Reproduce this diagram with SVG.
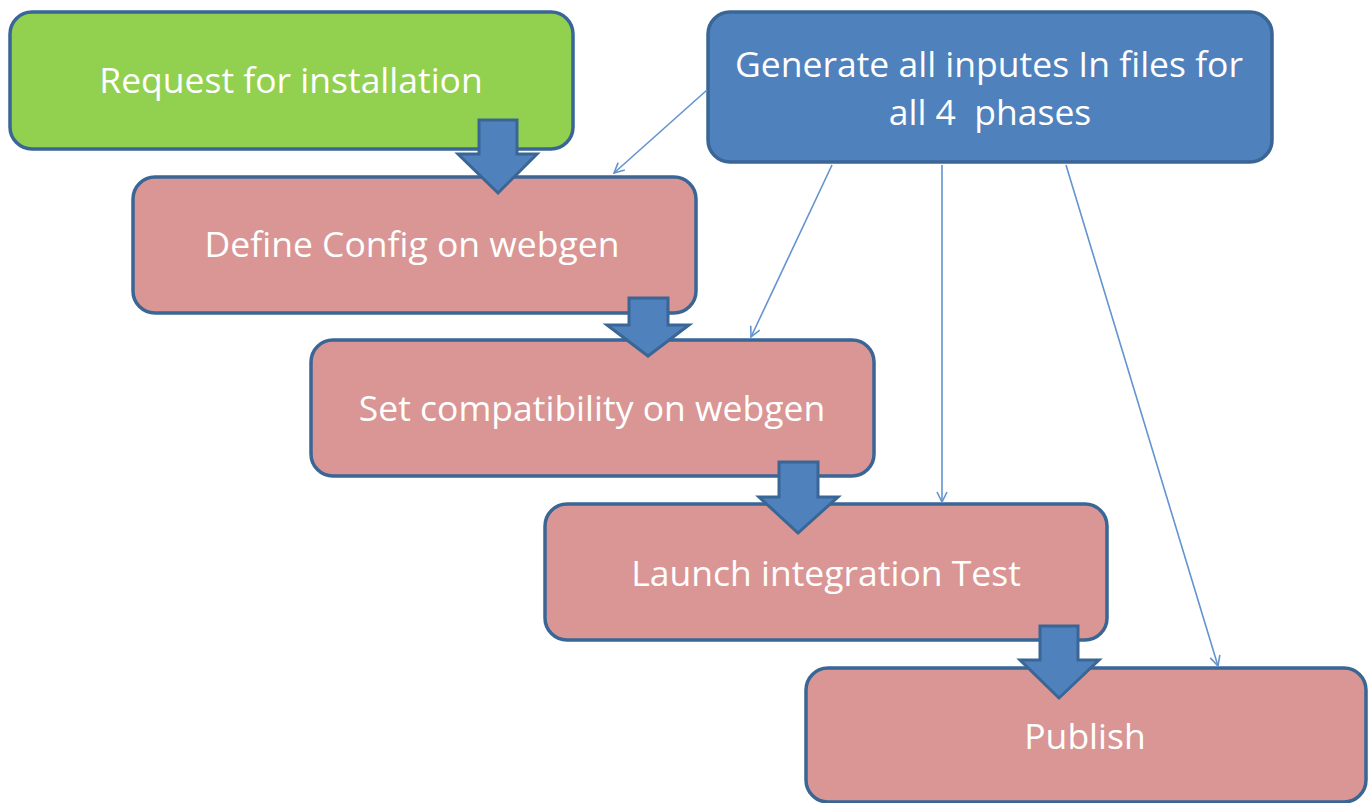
<svg xmlns="http://www.w3.org/2000/svg" width="1368" height="803" viewBox="0 0 1368 803">
<style>
.box{stroke:#3a6696;stroke-width:3.5}
.green{fill:#92d050}
.blue{fill:#4f81bd}
.red{fill:#d99694}
.lbl{font-family:"Open Sans","Liberation Sans",sans-serif;font-size:35.5px;fill:#ffffff;text-anchor:middle}
.thin{stroke:#6393d0;stroke-width:1.6;fill:none;marker-end:url(#v)}
.blk{fill:#4f81bd;stroke:#3a6696;stroke-width:3;stroke-linejoin:miter}
</style>
<defs>
<marker id="v" viewBox="0 0 12 12" refX="11" refY="6" markerWidth="12" markerHeight="12" markerUnits="userSpaceOnUse" orient="auto">
<path d="M1,1 L11,6 L1,11" fill="none" stroke="#6393d0" stroke-width="1.6"/>
</marker>
</defs>
<rect width="1368" height="803" fill="#ffffff"/>
<g id="n-request">
<rect class="box green" x="10" y="12" width="563" height="137" rx="22"/>
<text class="lbl" x="291" y="93">Request for installation</text>
</g>
<g id="n-generate">
<rect class="box blue" x="708" y="12" width="564" height="150" rx="22"/>
<text class="lbl" x="989" y="77">Generate all inputes In files for</text>
<text class="lbl" x="990" y="125" xml:space="preserve">all 4  phases</text>
</g>
<g id="n-define">
<rect class="box red" x="133" y="177" width="563" height="136" rx="22"/>
<text class="lbl" x="412" y="257">Define Config on webgen</text>
</g>
<g id="n-setcompat">
<rect class="box red" x="311" y="340" width="563" height="136" rx="22"/>
<text class="lbl" x="592" y="421">Set compatibility on webgen</text>
</g>
<g id="n-launch">
<rect class="box red" x="545" y="504" width="562" height="136" rx="22"/>
<text class="lbl" x="826" y="586">Launch integration Test</text>
</g>
<g id="n-publish">
<rect class="box red" x="806" y="668" width="560" height="134" rx="22"/>
<text class="lbl" x="1085" y="749">Publish</text>
</g>
<g id="connectors">
<line class="thin" x1="707" y1="90" x2="614" y2="173"/>
<line class="thin" x1="832" y1="165" x2="751" y2="337"/>
<line class="thin" x1="942" y1="165" x2="942" y2="502"/>
<line class="thin" x1="1066" y1="165" x2="1218" y2="666"/>
<path class="blk" d="M479,120 H517 V154 H537 L498,193 L458,154 H479 Z"/>
<path class="blk" d="M629,298 H668 V325 H689 L648,356 L607,325 H629 Z"/>
<path class="blk" d="M779,462 H818 V497 H838 L798,533 L759,497 H779 Z"/>
<path class="blk" d="M1040,626 H1078 V660 H1099 L1059,698 L1020,660 H1040 Z"/>
</g>
</svg>
